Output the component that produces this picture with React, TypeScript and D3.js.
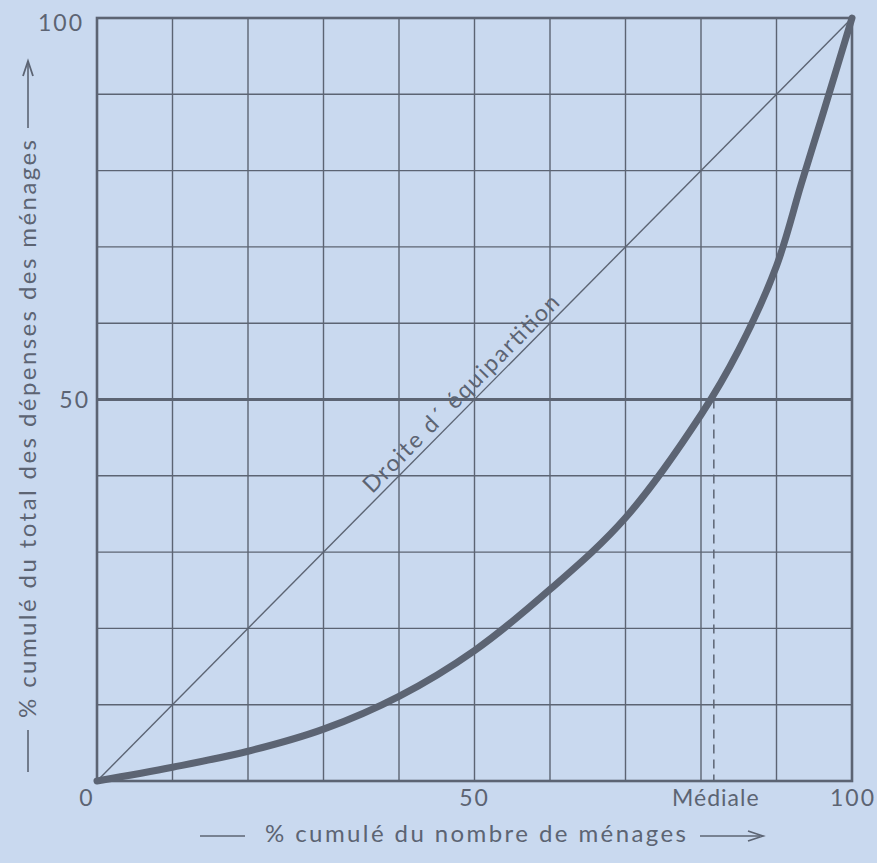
import React from "react";
import * as d3 from "d3";

// Lorenz curve data (cumulative % of households, cumulative % of spending)
const householdsPct = [0, 10, 20, 30, 40, 50, 60, 70, 80, 85, 90, 93.3, 96.2, 100];
const spendingPct = [0, 1.8, 3.9, 6.8, 11.1, 17.1, 25.1, 34.5, 48, 56.5, 67.5, 78.3, 87.6, 100];
const gridTicks = [0, 10, 20, 30, 40, 50, 60, 70, 80, 90, 100];
const medialeX = 81.7;
const xTickLabels = [
  { v: 0, t: "0" },
  { v: 50, t: "50" },
  { v: medialeX, t: "Médiale" },
  { v: 100, t: "100" },
];
const yTickLabels = [
  { v: 50, t: "50" },
  { v: 100, t: "100" },
];

const W = 877;
const H = 863;
const BG = "#c9d9ef";
const INK = "#5c6473";
const FONT = "Lato, 'Open Sans', sans-serif";

export default function App() {
  const x = d3.scaleLinear().domain([0, 100]).range([97, 852]);
  const y = d3.scaleLinear().domain([0, 100]).range([781, 18]);

  const pts = householdsPct.map((h, i) => [h, spendingPct[i]] as [number, number]);
  const line = d3
    .line<[number, number]>()
    .x((d) => x(d[0]))
    .y((d) => y(d[1]))
    .curve(d3.curveCatmullRom.alpha(0.5));

  const angle =
    (Math.atan2(y(100) - y(0), x(100) - x(0)) * 180) / Math.PI;
  const labT = 49.5;

  const xTitleY = 842;
  const yTitleX = 28;

  return (
    <svg
      width={W}
      height={H}
      style={{ position: "absolute", left: 0, top: 0 }}
      fontFamily={FONT}
    >
      <rect x={0} y={0} width={W} height={H} fill={BG} />

      {/* grid */}
      {gridTicks.map((t) => (
        <line
          key={"v" + t}
          x1={x(t)}
          x2={x(t)}
          y1={y(0)}
          y2={y(100)}
          stroke={INK}
          strokeWidth={1.4}
        />
      ))}
      {gridTicks.map((t) => (
        <line
          key={"h" + t}
          x1={x(0)}
          x2={x(100)}
          y1={y(t)}
          y2={y(t)}
          stroke={INK}
          strokeWidth={t === 50 ? 3 : 1.4}
        />
      ))}
      <rect
        x={x(0)}
        y={y(100)}
        width={x(100) - x(0)}
        height={y(0) - y(100)}
        fill="none"
        stroke={INK}
        strokeWidth={2.6}
      />

      {/* equal distribution line */}
      <line
        x1={x(0)}
        y1={y(0)}
        x2={x(100)}
        y2={y(100)}
        stroke={INK}
        strokeWidth={1.4}
      />
      <g transform={`translate(${x(labT)},${y(labT)}) rotate(${angle})`}>
        <text
          x={0}
          y={-6}
          textAnchor="middle"
          fontSize={23}
          fill={INK}
          textLength={268}
          lengthAdjust="spacing"
        >
          Droite d´ équipartition
        </text>
      </g>

      {/* mediale dashed */}
      <line
        x1={x(medialeX)}
        x2={x(medialeX)}
        y1={y(50)}
        y2={y(0)}
        stroke={INK}
        strokeWidth={1.5}
        strokeDasharray="9,6"
      />

      {/* Lorenz curve */}
      <path
        d={line(pts) || ""}
        fill="none"
        stroke={INK}
        strokeWidth={7}
        strokeLinecap="round"
        strokeLinejoin="round"
      />

      {/* tick labels */}
      {xTickLabels.map((d) => (
        <text
          key={"xt" + d.t}
          x={d.v === 0 ? x(0) - 10 : x(d.v) + (d.v === 100 ? 1 : d.t === "Médiale" ? 2 : 0)}
          y={806}
          textAnchor="middle"
          fontSize={23}
          fill={INK}
          letterSpacing={d.t === "Médiale" ? 1 : 2}
        >
          {d.t}
        </text>
      ))}
      {yTickLabels.map((d) => (
        <text
          key={"yt" + d.t}
          x={d.v === 100 ? 84 : 90}
          y={y(d.v) + (d.v === 100 ? 13 : 8)}
          textAnchor="end"
          fontSize={23}
          fill={INK}
          letterSpacing={2}
        >
          {d.t}
        </text>
      ))}

      {/* x axis title */}
      <line x1={200} x2={245} y1={xTitleY - 6} y2={xTitleY - 6} stroke={INK} strokeWidth={1.6} />
      <text
        x={265}
        y={xTitleY}
        fontSize={24}
        fill={INK}
        textLength={421}
        lengthAdjust="spacing"
      >
        % cumulé  du nombre de ménages
      </text>
      <line x1={700} x2={760} y1={xTitleY - 6} y2={xTitleY - 6} stroke={INK} strokeWidth={1.6} />
      <path
        d={`M748,${xTitleY - 11} L763,${xTitleY - 6} L748,${xTitleY - 1}`}
        fill="none"
        stroke={INK}
        strokeWidth={1.8}
      />

      {/* y axis title */}
      <line x1={yTitleX} x2={yTitleX} y1={772} y2={730} stroke={INK} strokeWidth={1.6} />
      <text
        transform={`translate(${yTitleX + 8},718) rotate(-90)`}
        x={0}
        y={0}
        fontSize={24}
        fill={INK}
        textLength={578}
        lengthAdjust="spacing"
      >
        % cumulé du total des dépenses des ménages
      </text>
      <line x1={yTitleX} x2={yTitleX} y1={128} y2={64} stroke={INK} strokeWidth={1.6} />
      <path
        d={`M${yTitleX - 5},76 L${yTitleX},61 L${yTitleX + 5},76`}
        fill="none"
        stroke={INK}
        strokeWidth={1.8}
      />
    </svg>
  );
}
